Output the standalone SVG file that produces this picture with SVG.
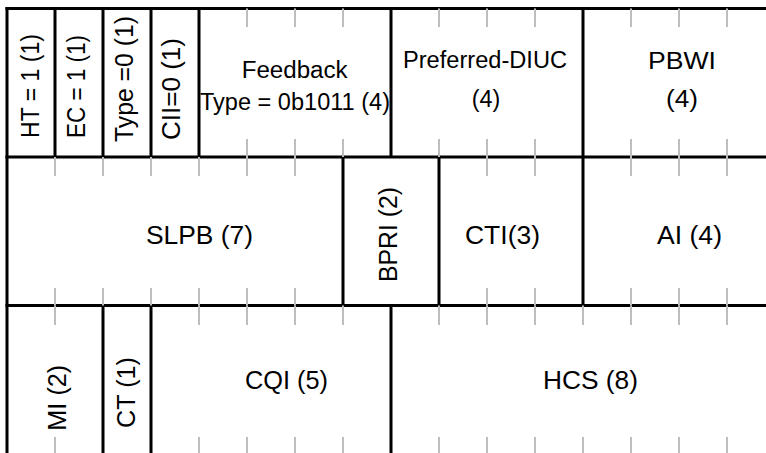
<svg xmlns="http://www.w3.org/2000/svg" width="766" height="453" viewBox="0 0 766 453">
<style>
.ln{stroke:#000;stroke-width:3;fill:none}
.tk{stroke:#bdbdbd;stroke-width:2;fill:none}
.t{font-family:"Liberation Sans",Arial,sans-serif;font-size:23px;fill:#000}
.b{font-size:25px}
.v{font-family:"Liberation Sans",Arial,sans-serif;font-size:26px;fill:#000}
</style>
<rect width="766" height="453" fill="#fff"/>
<g id="connectors">
<path class="ln" d="M5.5 8.5H766M5.5 157H766M5.5 305.5H766"/>
<path class="ln" d="M7 7V453M55 8.5V157M103 8.5V157M151 8.5V157M199 8.5V157M391 8.5V157M583 8.5V157"/>
<path class="ln" d="M343 157V305.5M439 157V305.5M583 157V305.5"/>
<path class="ln" d="M103 305.5V453M151 305.5V453M391 305.5V453"/>
</g>
<g id="ht"><text class="v" transform="translate(38.5,138) rotate(-90)" textLength="104" lengthAdjust="spacingAndGlyphs">HT = 1 (1)</text></g>
<g id="ec"><text class="v" transform="translate(85,138) rotate(-90)" textLength="103" lengthAdjust="spacingAndGlyphs">EC = 1 (1)</text></g>
<g id="type"><text class="v" transform="translate(133,142) rotate(-90)" textLength="126" lengthAdjust="spacingAndGlyphs">Type =0 (1)</text></g>
<g id="cii"><text class="v" transform="translate(180,140) rotate(-90)" textLength="102" lengthAdjust="spacingAndGlyphs">CII=0 (1)</text></g>
<g id="feedback">
<path class="tk" d="M247 8.5V27M295 8.5V27M343 8.5V27M247 139V157M295 139V157M343 139V157"/>
<text class="t" x="241.7" y="77.5" textLength="106" lengthAdjust="spacingAndGlyphs">Feedback</text>
<text class="t" x="200" y="109.5" textLength="190" lengthAdjust="spacingAndGlyphs">Type = 0b1011 (4)</text>
</g>
<g id="preferred-diuc">
<path class="tk" d="M439 8.5V27M487 8.5V27M535 8.5V27M439 139V157M487 139V157M535 139V157"/>
<text class="t" x="403" y="68" textLength="164" lengthAdjust="spacingAndGlyphs">Preferred-DIUC</text>
<text class="t" x="471.7" y="107" textLength="28.5" lengthAdjust="spacingAndGlyphs">(4)</text>
</g>
<g id="pbwi">
<path class="tk" d="M631 8.5V27M679 8.5V27M727 8.5V27M631 139V157M679 139V157M727 139V157"/>
<text class="t" x="648" y="69" textLength="68" lengthAdjust="spacingAndGlyphs">PBWI</text>
<text class="t" x="666" y="107" textLength="32" lengthAdjust="spacingAndGlyphs">(4)</text>
</g>
<g id="slpb">
<path class="tk" d="M55 157V176M103 157V176M151 157V176M199 157V176M247 157V176M295 157V176M55 288V305.5M103 288V305.5M151 288V305.5M199 288V305.5M247 288V305.5M295 288V305.5"/>
<text class="t b" x="146" y="244" textLength="107" lengthAdjust="spacingAndGlyphs">SLPB (7)</text>
</g>
<g id="bpri"><text class="v" transform="translate(396.7,282) rotate(-90)" textLength="95" lengthAdjust="spacingAndGlyphs">BPRI (2)</text></g>
<g id="cti">
<path class="tk" d="M487 157V176M535 157V176M487 288V305.5M535 288V305.5"/>
<text class="t b" x="465" y="243.5" textLength="75" lengthAdjust="spacingAndGlyphs">CTI(3)</text>
</g>
<g id="ai">
<path class="tk" d="M631 157V176M679 157V176M727 157V176M631 288V305.5M679 288V305.5M727 288V305.5"/>
<text class="t b" x="657" y="244" textLength="65" lengthAdjust="spacingAndGlyphs">AI (4)</text>
</g>
<g id="mi">
<path class="tk" d="M55 305.5V325M55 437V453"/>
<text class="v" transform="translate(65.7,430.7) rotate(-90)" textLength="66" lengthAdjust="spacingAndGlyphs">MI (2)</text>
</g>
<g id="ct"><text class="v" transform="translate(135,428) rotate(-90)" textLength="71" lengthAdjust="spacingAndGlyphs">CT (1)</text></g>
<g id="cqi">
<path class="tk" d="M199 305.5V325M247 305.5V325M295 305.5V325M343 305.5V325M199 437V453M247 437V453M295 437V453M343 437V453"/>
<text class="t b" x="245" y="389" textLength="83" lengthAdjust="spacingAndGlyphs">CQI (5)</text>
</g>
<g id="hcs">
<path class="tk" d="M439 305.5V325M487 305.5V325M535 305.5V325M583 305.5V325M631 305.5V325M679 305.5V325M727 305.5V325M439 437V453M487 437V453M535 437V453M583 437V453M631 437V453M679 437V453M727 437V453"/>
<text class="t b" x="543" y="389" textLength="95" lengthAdjust="spacingAndGlyphs">HCS (8)</text>
</g>
</svg>
